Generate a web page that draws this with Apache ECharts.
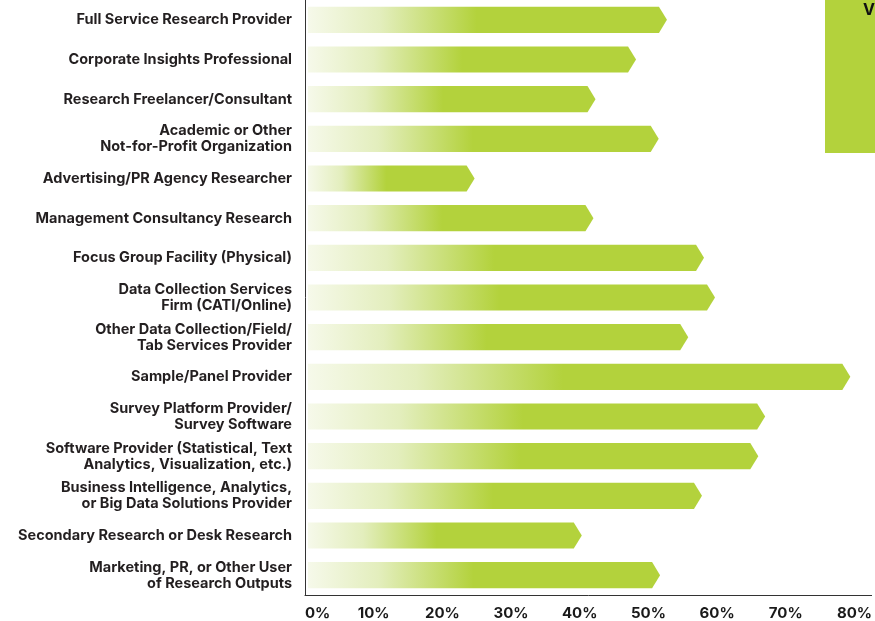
<!DOCTYPE html>
<html>
<head>
<meta charset="utf-8">
<script src="https://cdn.jsdelivr.net/npm/echarts@6/dist/echarts.min.js"></script>
<style>
  html, body { margin: 0; padding: 0; background: #fff; }
  #chart { width: 875px; height: 621px; }
</style>
</head>
<body>
<div id="chart"></div>
<script>
// categories, top to bottom
const categories = [
  'Full Service Research Provider',
  'Corporate Insights Professional',
  'Research Freelancer/Consultant',
  'Academic or Other\nNot-for-Profit Organization',
  'Advertising/PR Agency Researcher',
  'Management Consultancy Research',
  'Focus Group Facility (Physical)',
  'Data Collection Services\nFirm (CATI/Online)',
  'Other Data Collection/Field/\nTab Services Provider',
  'Sample/Panel Provider',
  'Survey Platform Provider/\nSurvey Software',
  'Software Provider (Statistical, Text\nAnalytics, Visualization, etc.)',
  'Business Intelligence, Analytics,\nor Big Data Solutions Provider',
  'Secondary Research or Desk Research',
  'Marketing, PR, or Other User\nof Research Outputs'
];

// percent values
const values = [52.7, 48.2, 42.3, 51.5, 24.7, 42, 58.1, 59.7, 55.8, 79.4, 67, 66, 57.8, 40.3, 51.7];

const xTicks = [0, 10, 20, 30, 40, 50, 60, 70, 80];

const green = '#b3d23c';
const font = 'Inter';

const chart = echarts.init(document.getElementById('chart'));

const option = {
  animation: false,
  grid: { left: 305, right: 0, top: -1, bottom: 26 },
  xAxis: {
    type: 'value',
    min: 0,
    max: 82.5,
    interval: 10,
    splitLine: { show: false },
    axisTick: { show: false },
    axisLine: { show: true, lineStyle: { color: '#333', width: 1 } },
    axisLabel: {
      color: '#1a1a1a',
      fontSize: 15,
      fontWeight: 'bold',
      fontFamily: font,
      margin: 11,
      alignMinLabel: 'left',
      formatter: v => xTicks.indexOf(v) >= 0 ? v + '%' : ''
    }
  },
  yAxis: {
    type: 'category',
    inverse: true,
    data: categories,
    axisTick: { show: false },
    axisLine: { show: true, lineStyle: { color: '#333', width: 1 } },
    axisLabel: {
      color: '#231f20',
      fontSize: 14.5,
      fontWeight: 'bold',
      fontFamily: font,
      lineHeight: 16,
      margin: 13
    }
  },
  series: [{
    type: 'custom',
    data: values.map((v, i) => [v, i]),
    encode: { x: 0, y: 1 },
    renderItem: function (params, api) {
      const start = api.coord([0, api.value(1)]);
      const end = api.coord([api.value(0), api.value(1)]);
      const h = api.size([0, 1])[1] * 0.66;
      const x0 = start[0] + 3;
      const x1 = end[0];
      const y = end[1];
      const tip = 8;
      return {
        type: 'polygon',
        shape: {
          points: [
            [x0, y - h / 2],
            [x1 - tip, y - h / 2],
            [x1, y],
            [x1 - tip, y + h / 2],
            [x0, y + h / 2]
          ]
        },
        style: {
          fill: new echarts.graphic.LinearGradient(0, 0, 1, 0, [
            { offset: 0, color: '#f6f9ea' },
            { offset: 0.2, color: '#e3eebd' },
            { offset: 0.47, color: green },
            { offset: 1, color: green }
          ])
        }
      };
    }
  }],
  graphic: [
    {
      type: 'rect',
      left: 825,
      top: 0,
      shape: { width: 50, height: 153 },
      style: { fill: green }
    },
    {
      type: 'text',
      left: 863,
      top: 2,
      style: { text: 'V', fill: '#111', font: 'bold 16px Inter' }
    }
  ]
};

chart.setOption(option);
</script>
</body>
</html>
